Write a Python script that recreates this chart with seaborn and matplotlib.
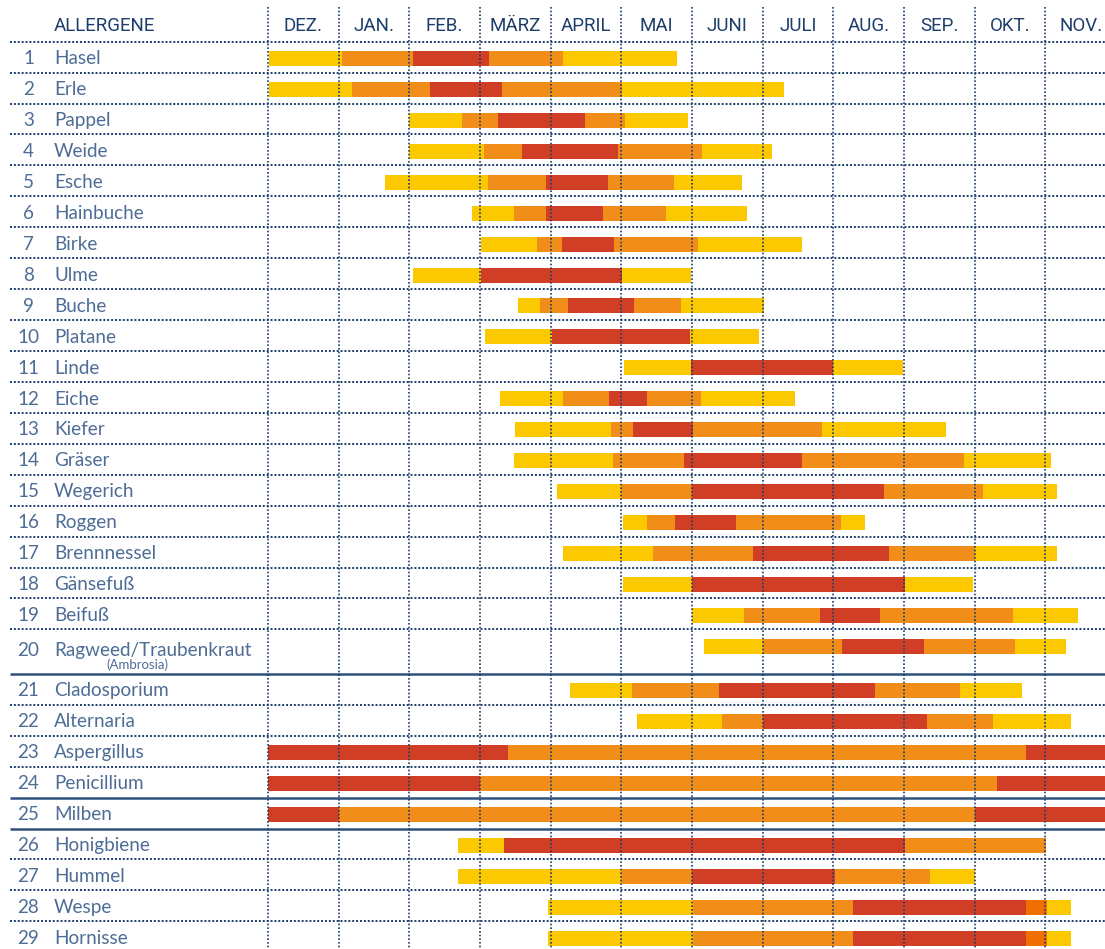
import matplotlib
matplotlib.use("Agg")
import matplotlib.pyplot as plt
import seaborn as sns
import numpy as np

# ---------------- data ----------------
MONTHS = ["DEZ.", "JAN.", "FEB.", "MÄRZ", "APRIL", "MAI",
          "JUNI", "JULI", "AUG.", "SEP.", "OKT.", "NOV."]

ALLERGENS = ["Hasel", "Erle", "Pappel", "Weide", "Esche", "Hainbuche", "Birke",
             "Ulme", "Buche", "Platane", "Linde", "Eiche", "Kiefer", "Gräser",
             "Wegerich", "Roggen", "Brennnessel", "Gänsefuß", "Beifuß",
             "Ragweed/Traubenkraut", "Cladosporium", "Alternaria", "Aspergillus",
             "Penicillium", "Milben", "Honigbiene", "Hummel", "Wespe", "Hornisse"]
SUBTITLES = {"Ragweed/Traubenkraut": "(Ambrosia)"}

# segment boundaries, in months counted from 1 December
BOUNDS = [
    [0.02, 1.05, 2.05, 3.13, 4.17, 5.79],   # Hasel
    [0.02, 1.19, 2.29, 3.31, 5.01, 7.30],   # Erle
    [2.00, 2.75, 3.26, 4.49, 5.05, 5.94],   # Pappel
    [2.00, 3.06, 3.59, 4.95, 6.14, 7.13],   # Weide
    [1.66, 3.11, 3.93, 4.81, 5.75, 6.71],   # Esche
    [2.89, 3.48, 3.93, 4.74, 5.63, 6.78],   # Hainbuche
    [3.01, 3.81, 4.16, 4.90, 6.09, 7.56],   # Birke
    [2.05, 3.01, 5.01, 5.99],               # Ulme
    [3.54, 3.85, 4.25, 5.18, 5.84, 7.02],   # Buche
    [3.07, 4.02, 5.97, 6.95],               # Platane
    [5.04, 5.99, 8.00, 8.99],               # Linde
    [3.28, 4.17, 4.82, 5.36, 6.12, 7.46],   # Eiche
    [3.50, 4.85, 5.17, 6.01, 7.84, 9.59],   # Kiefer
    [3.48, 4.88, 5.89, 7.56, 9.85, 11.08],  # Gräser
    [4.09, 5.00, 6.00, 8.72, 10.12, 11.17], # Wegerich
    [5.02, 5.36, 5.76, 6.62, 8.11, 8.45],   # Roggen
    [4.17, 5.45, 6.86, 8.79, 10.01, 11.17], # Brennnessel
    [5.02, 6.00, 9.01, 9.98],               # Gänsefuß
    [6.00, 6.74, 7.81, 8.66, 10.54, 11.46], # Beifuß
    [6.17, 7.00, 8.12, 9.28, 10.57, 11.29], # Ragweed
    [4.28, 5.15, 6.38, 8.59, 9.79, 10.67],  # Cladosporium
    [5.22, 6.42, 7.01, 9.32, 10.26, 11.36], # Alternaria
    [0.00, 3.40, 10.73, 12.00],             # Aspergillus
    [0.00, 3.00, 10.32, 12.00],             # Penicillium
    [0.00, 1.01, 10.01, 12.00],             # Milben
    [2.69, 3.34, 9.01, 11.01],              # Honigbiene
    [2.69, 5.00, 6.00, 8.02, 9.37, 10.01],  # Hummel
    [3.96, 6.01, 8.28, 10.73, 11.02, 11.36],# Wespe
    [3.96, 6.01, 8.28, 10.73, 11.02, 11.36],# Hornisse
]
# intensity of each segment: Y=low, O=medium, R=high, D=very high (insects)
LEVELS = ["YOROY", "YOROY", "YOROY", "YOROY", "YOROY", "YOROY", "YOROY",
          "YRY", "YOROY", "YRY", "YRY", "YOROY", "YOROY", "YOROY", "YOROY",
          "YOROY", "YOROY", "YRY", "YOROY", "YOROY", "YOROY", "YOROY",
          "ROR", "ROR", "ROR", "YRO", "YOROY", "YORDY", "YORDY"]

COLORS = {"Y": "#FCC800", "O": "#F18E1A", "R": "#D03E25", "D": "#EF6F00"}

# ---------------- layout ----------------
W_PX, H_PX = 1105, 949
CHART_LEFT_PX = 268.0
MONTH_PX = 70.67
HEADER_PX = 41.7
ROW_PX = 30.93
TALL_ROW_PX = 44.5
SOLID_AFTER = {19, 23, 24}   # solid separators below these row indices

NAVY = "#1D3D6B"
TEXT_BLUE = "#4D6D96"

sns.set_theme(style="white")
plt.rcParams["font.family"] = ["Lato", "DejaVu Sans"]

fig = plt.figure(figsize=(W_PX / 100, H_PX / 100), dpi=100)
ax = fig.add_axes([0, 0, 1, 1])
ax.set_xlim(-CHART_LEFT_PX / MONTH_PX, (W_PX - CHART_LEFT_PX) / MONTH_PX)
ax.set_ylim(H_PX, 0)
ax.axis("off")

heights = np.array([TALL_ROW_PX if n in SUBTITLES else ROW_PX for n in ALLERGENS])
tops = HEADER_PX + np.concatenate([[0], np.cumsum(heights)[:-1]])
bottoms = tops + heights

# bars
for i, (b, lv) in enumerate(zip(BOUNDS, LEVELS)):
    b = np.asarray(b)
    ax.barh(np.full(len(lv), tops[i] + 16.8), np.diff(b), left=b[:-1],
            height=15, color=[COLORS[c] for c in lv], linewidth=0, zorder=2)

# horizontal separators
yfr = ax.get_yaxis_transform()
ax.plot([10 / W_PX, 1], [HEADER_PX, HEADER_PX], transform=yfr, color=NAVY,
        lw=1.4, ls=(0, (1, 1)), zorder=3)
for i, yb in enumerate(bottoms):
    if i in SOLID_AFTER:
        ax.plot([10 / W_PX, 1], [yb, yb], transform=yfr, color="#2E517E",
                lw=1.8, solid_capstyle="butt", zorder=3)
    else:
        ax.plot([10 / W_PX, 1], [yb, yb], transform=yfr, color=NAVY,
                lw=1.4, ls=(0, (1, 1)), zorder=3)

# vertical month lines (drawn over bars)
ax.vlines(np.arange(0, len(MONTHS) + 1), 7, H_PX, color=NAVY, lw=1.2,
          linestyles=[(0, (1, 1.2))], zorder=4)

# header
hdr_font = ["Roboto", "DejaVu Sans"]
ax.text(54 / W_PX, 31, "ALLERGENE", transform=yfr, ha="left", va="baseline",
        fontsize=13.5, color=NAVY, family=hdr_font)
for k, m in enumerate(MONTHS):
    ax.text(k + 0.5, 31, m, ha="center", va="baseline", fontsize=13.5,
            color=NAVY, family=hdr_font)

# row labels
for i, name in enumerate(ALLERGENS):
    base = tops[i] + (26.2 if name in SUBTITLES else 22.6)
    ax.text(28.5 / W_PX, base, str(i + 1), transform=yfr, ha="center",
            va="baseline", fontsize=13.6, color=TEXT_BLUE, fontweight="normal")
    ax.text(54 / W_PX, base, name, transform=yfr, ha="left", va="baseline",
            fontsize=13.6, color=TEXT_BLUE, fontweight="normal")
    if name in SUBTITLES:
        ax.text(137 / W_PX, tops[i] + 39.5, SUBTITLES[name], transform=yfr,
                ha="center", va="baseline", fontsize=9.5, color=TEXT_BLUE,
                fontweight="normal")

fig.savefig("out.png", dpi=100)
